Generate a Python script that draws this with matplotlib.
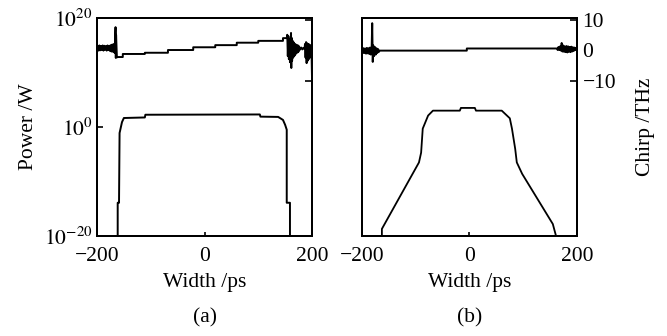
import numpy as np
import matplotlib
matplotlib.use("Agg")
import matplotlib.pyplot as plt

plt.rcParams['font.family'] = ['Liberation Serif', 'DejaVu Serif']
plt.rcParams['mathtext.fontset'] = 'stix'

# ---- panel (a): power (log10 W) vs time ----
power_a_t = [-161.5, -161.5, -159, -159, -158, -153.5, -150, -111, -110,
             103, 104, 137, 146, 150, 153, 153, 159, 159]
power_a_log = [-22, -13.9, -13.9, -13.4, -1.1, 0.9, 1.65, 1.75, 2.25,
               2.3, 1.9, 1.85, 1.3, 0.4, -0.5, -13.9, -13.9, -22]

# panel (a): chirp (THz), noisy edges + staircase linear chirp
chirp_a_t = [-200, -198.5, -197, -195.5, -194, -192.5, -191, -189.5, -188,
             -186.5, -185, -183.5, -182, -180.5, -179, -177.5, -176, -174.5,
             -173, -171.5, -170, -168.5, -167, -165.5, -165, -164.5, -163,
             -161, -152, -152, -111, -111, -68, -68, -21, -21, 20, 20, 60,
             60, 100, 100, 146, 146, 153,
             154, 155, 156, 157, 158, 159, 160, 161, 161.5, 162, 163, 164,
             165, 166, 167, 168, 169, 170, 171, 172, 173, 174, 175, 176, 177,
             178, 180, 182, 184, 186, 187, 188, 189, 190, 191, 192, 193, 194,
             195, 196, 197, 198, 199, 200]
chirp_a_c = [0.4, 1.4, -0.2, 1.5, -0.1, 1.3, 0.0, 1.5, -0.2, 1.4, 0.1, 1.3,
             -0.2, 1.5, 0.0, 1.4, -0.3, 1.6, -0.5, 1.8, -0.6, 2.0, -1.0, 7.5,
             -2.6, 5.0, -2.4, -2.3, -2.3, -1.3, -1.3, -0.9, -0.9, 0.0, 0.0,
             0.9, 0.9, 1.6, 1.6, 2.4, 2.4, 3.0, 3.0, 3.9, 3.9,
             5.0, -2.0, 4.5, -3.0, 3.5, -4.0, 2.5, 5.6, -5.9, 4.0, -3.5, 3.0,
             -2.5, 2.5, -2.0, 2.0, -1.5, 1.8, -1.0, 1.6, -0.8, 1.5, -0.5, 1.2,
             0.0, 0.3, 0.8, 0.2, 0.7, 0.3, 2.0, -2.5, 2.6, -4.3, 2.2, -3.5,
             2.0, -3.0, 1.8, -2.5, 1.5, -1.0, 0.5, -9.0]

# ---- panel (b) ----
power_b_t = [-163, -163, -94, -90, -87, -77, -68, -18, -16, 10, 12, 60, 75,
             79, 85, 88, 98, 155, 161, 161]
power_b_log = [-22, -18.7, -6.5, -4.7, -0.3, 2.1, 3.0, 3.0, 3.5, 3.5, 3.0,
               3.0, 1.6, -0.3, -4.0, -6.5, -8.6, -17.8, -20, -22]

chirp_b_t = [-200, -198.5, -197, -195.5, -194, -192.5, -191, -189.5, -188,
             -186.5, -185, -183.5, -182, -181, -180, -179, -177.5, -176,
             -174.5, -173, -171.5, -170, -168.5, -167,
             -5, -5, 163,
             164, 165.5, 167, 168.5, 170, 171.5, 173, 174.5, 176, 177.5, 179,
             180.5, 182, 183.5, 185, 186.5, 188, 189.5, 191, 192.5, 194,
             195.5, 197, 198.5, 200]
chirp_b_c = [0.3, -1.0, 0.6, -1.0, 0.5, -1.2, 0.7, -1.1, 0.6, -1.3, 0.8,
             -1.5, 1.0, 8.8, -3.9, 1.5, -2.0, 1.0, -1.5, 0.6, -1.0, 0.3,
             -0.6, -0.2,
             -0.2, 0.5, 0.5,
             0.0, 1.0, 0.0, 1.2, -0.2, 2.3, -0.5, 1.5, -0.6, 1.2, -0.7, 1.3,
             -0.8, 1.2, -0.6, 1.0, -0.7, 1.1, -0.5, 0.9, -0.3, 0.8, 0.0,
             0.6, 0.4]

xticks = [-200, 0, 200]
xticklabels = ['\u2212200', '0', '200']
power_ticks = [1e-20, 1e0, 1e20]
power_ticklabels = ['$10^{-20}$', '$10^{0}$', '$10^{20}$']
chirp_ticks = [-10, 0, 10]
chirp_ticklabels = ['\u221210', '0', '10']

fs = 15.5
fig = plt.figure(figsize=(6.67, 3.36), dpi=100)
W, H = 667.0, 336.0
ax_a = fig.add_axes([97 / W, 1 - 236 / H, 215 / W, 218 / H])
ax_b = fig.add_axes([362 / W, 1 - 236 / H, 215 / W, 218 / H])


def setup(ax, tw, show_power, show_chirp):
    ax.set_yscale('log')
    ax.set_xlim(-200, 200)
    ax.set_ylim(1e-20, 1e20)
    tw.set_ylim(-61, 10.5)
    for a in (ax, tw):
        for s in a.spines.values():
            s.set_linewidth(1.4)
    ax.set_xticks(xticks)
    ax.set_xticklabels(xticklabels, fontsize=fs)
    ax.tick_params(axis='x', direction='in', length=3, width=1.2, pad=8,
                   top=False)
    ax.yaxis.set_minor_locator(matplotlib.ticker.NullLocator())
    if show_power:
        ax.set_yticks(power_ticks)
        ax.set_yticklabels(power_ticklabels, fontsize=fs)
        ax.tick_params(axis='y', direction='in', length=4, width=1.2, pad=3)
    else:
        ax.set_yticks([])
    tw.set_yticks(chirp_ticks)
    tw.tick_params(axis='y', direction='in', length=5, width=1.2, pad=4,
                   labelright=show_chirp, labelsize=fs)
    if show_chirp:
        tw.set_yticklabels(chirp_ticklabels)
    ax.set_xlabel('Width /ps', fontsize=fs, labelpad=5)


tw_a = ax_a.twinx()
tw_b = ax_b.twinx()
setup(ax_a, tw_a, True, False)
setup(ax_b, tw_b, False, True)

ax_a.plot(power_a_t, 10.0 ** np.array(power_a_log), color='black', lw=1.4)
tw_a.plot(chirp_a_t, chirp_a_c, color='black', lw=1.4)
ax_b.plot(power_b_t, 10.0 ** np.array(power_b_log), color='black', lw=1.3)
tw_b.plot(chirp_b_t, chirp_b_c, color='black', lw=1.4)

ax_a.set_ylabel('Power /W', fontsize=fs, labelpad=4)
tw_b.set_ylabel('Chirp /THz', fontsize=fs, labelpad=14)

fig.text(205 / W, 1 - 318 / H, '(a)', ha='center', va='center', fontsize=fs)
fig.text(470 / W, 1 - 318 / H, '(b)', ha='center', va='center', fontsize=fs)

fig.savefig('out.png', dpi=100)
